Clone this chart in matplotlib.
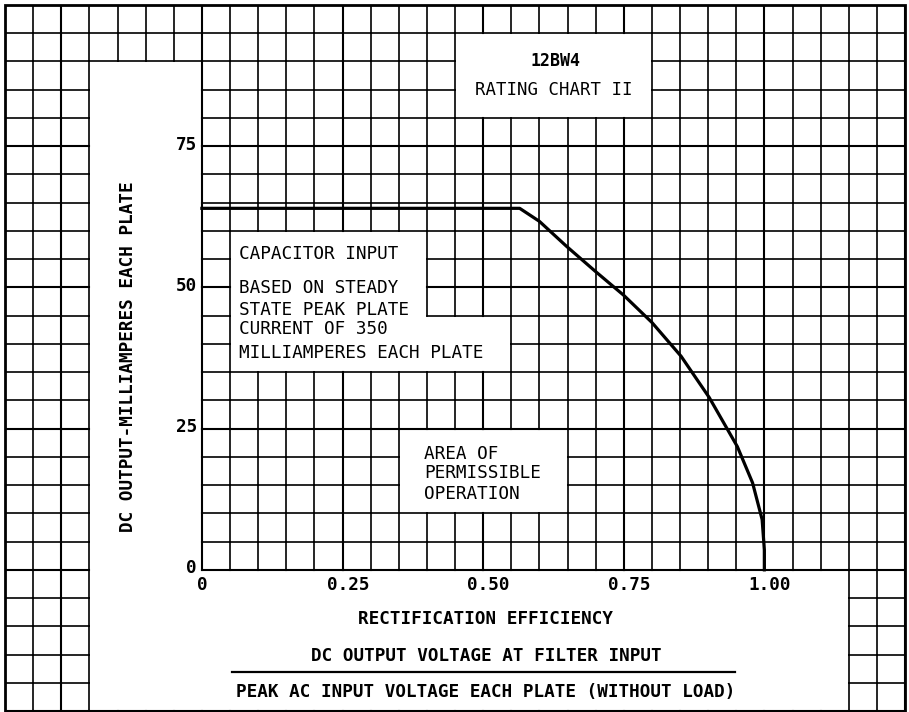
import matplotlib
matplotlib.use('Agg')
import matplotlib.pyplot as plt
from matplotlib.collections import LineCollection
import numpy as np

# rating curve
efficiency = [0, 0.565, 0.60, 0.648, 0.70, 0.75, 0.80, 0.852, 0.902, 0.952, 0.979, 0.996, 1.0, 1.0]
dc_output_ma = [64, 64, 61.7, 57.3, 52.8, 48.6, 43.8, 37.8, 30.5, 21.8, 15.4, 8.9, 3.5, 0]

x_ticks = [0, 0.25, 0.50, 0.75, 1.00]
x_tick_labels = ['0', '0.25', '0.50', '0.75', '1.00']
y_ticks = [0, 25, 50, 75]
y_tick_labels = ['0', '25', '50', '75']

title_lines = ['12BW4', 'RATING CHART II']
capacitor_lines = ['CAPACITOR INPUT', 'BASED ON STEADY', 'STATE PEAK PLATE',
                   'CURRENT OF 350', 'MILLIAMPERES EACH PLATE']
area_lines = ['AREA OF', 'PERMISSIBLE', 'OPERATION']
y_label = 'DC OUTPUT-MILLIAMPERES EACH PLATE'
x_label = 'RECTIFICATION EFFICIENCY'
x_numerator = 'DC OUTPUT VOLTAGE AT FILTER INPUT'
x_denominator = 'PEAK AC INPUT VOLTAGE EACH PLATE (WITHOUT LOAD)'

# grid sheet: 32 x 25 cells of 0.05 x 5
X0, DX, NX = -0.35, 0.05, 32
Y0, DY, NY = -25, 5, 25

# blank (white) areas on the sheet, in data units
blank_areas = [
    (-0.20, -25, 0.0, 90),    # left of the y axis
    (-0.20, -25, 1.15, 0),    # below the x axis
    (0.45, 80, 0.80, 95),     # title
    (0.05, 45, 0.40, 60),     # capacitor note
    (0.05, 35, 0.55, 45),
    (0.35, 10, 0.65, 25),     # permissible area note
]

FONT = 'DejaVu Sans Mono'
CAP = 1.13  # half cap height in y units, to centre caps on a value


def cell_blank():
    mask = np.zeros((NX, NY), dtype=bool)
    for i in range(NX):
        for j in range(NY):
            cx = X0 + (i + 0.5) * DX
            cy = Y0 + (j + 0.5) * DY
            for (a, b, c, d) in blank_areas:
                if a < cx < c and b < cy < d:
                    mask[i, j] = True
    return mask


def grid_segments(mask):
    minor, major = [], []
    # vertical lines
    for i in range(NX + 1):
        x = X0 + i * DX
        for j in range(NY):
            left = mask[i - 1, j] if i > 0 else False
            right = mask[i, j] if i < NX else False
            if left and right:
                continue
            seg = [(x, Y0 + j * DY), (x, Y0 + (j + 1) * DY)]
            (major if (i - 7) % 5 == 0 else minor).append(seg)
    # horizontal lines
    for j in range(NY + 1):
        y = Y0 + j * DY
        for i in range(NX):
            below = mask[i, j - 1] if j > 0 else False
            above = mask[i, j] if j < NY else False
            if below and above:
                continue
            seg = [(X0 + i * DX, y), (X0 + (i + 1) * DX, y)]
            (major if j % 5 == 0 else minor).append(seg)
    return minor, major


fig = plt.figure(figsize=(9.09, 7.12), dpi=100)
ax = fig.add_axes([5 / 909, 1 / 712, 900 / 909, 706 / 712])
ax.set_xlim(X0, X0 + NX * DX)
ax.set_ylim(Y0, Y0 + NY * DY)
ax.set_axis_off()

minor, major = grid_segments(cell_blank())
ax.add_collection(LineCollection(minor, colors='black', linewidths=1.2, capstyle='projecting'))
ax.add_collection(LineCollection(major, colors='black', linewidths=1.5, capstyle='projecting'))
ax.add_patch(plt.Rectangle((X0, Y0), NX * DX, NY * DY, fill=False, edgecolor='black',
                           linewidth=2.0, clip_on=False))

ax.plot(efficiency, dc_output_ma, color='black', linewidth=2.3, solid_joinstyle='round', zorder=5)

# tick labels
for t, lab in zip(y_ticks, y_tick_labels):
    ax.text(-0.009, t + 0.5 - CAP, lab, ha='right', va='baseline', family=FONT,
            fontweight='bold', fontsize=12.7)
for t, lab in zip(x_ticks, x_tick_labels):
    off = 0.0 if t == 0 else 0.01
    ax.text(t + off, -2.4 - CAP, lab, ha='center', va='baseline', family=FONT,
            fontweight='bold', fontsize=12.7)

# axis labels
ax.text(-0.131, 37.8, y_label, rotation=90, ha='center', va='center', family=FONT,
        fontweight='bold', fontsize=12.7)
ax.text(0.505, -8.5 - CAP, x_label, ha='center', va='baseline', family=FONT,
        fontweight='bold', fontsize=12.7)
ax.text(0.505, -15.0 - CAP, x_numerator, ha='center', va='baseline', family=FONT,
        fontweight='bold', fontsize=12.7)
ax.plot([0.053, 0.947], [-18.1, -18.1], color='black', linewidth=1.6)
ax.text(0.505, -21.4 - CAP, x_denominator, ha='center', va='baseline', family=FONT,
        fontweight='bold', fontsize=12.7)

# title box
ax.text(0.628, 90.4 - CAP, title_lines[0], ha='center', va='baseline', family=FONT,
        fontweight='bold', fontsize=12)
ax.text(0.626, 85.2 - CAP, title_lines[1], ha='center', va='baseline', family=FONT,
        fontsize=12.5)

# notes
for y, line in zip([56.1, 50.1, 46.3, 42.8, 38.7], capacitor_lines):
    ax.text(0.066, y - CAP, line, ha='left', va='baseline', family=FONT, fontsize=12.7)
for y, line in zip([20.8, 17.3, 13.7], area_lines):
    ax.text(0.395, y - CAP, line, ha='left', va='baseline', family=FONT, fontsize=12.7)

fig.savefig('out.png', dpi=100)
